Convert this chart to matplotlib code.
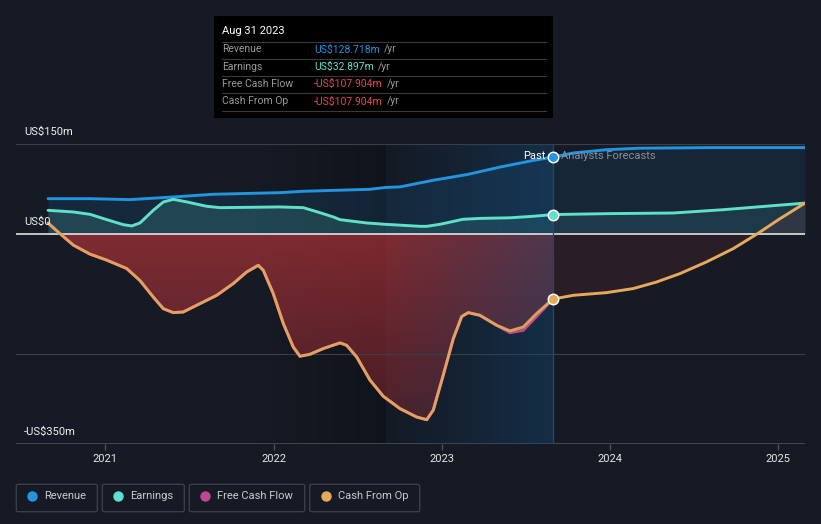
import matplotlib.pyplot as plt
import numpy as np
from matplotlib.colors import LinearSegmentedColormap
from matplotlib.patches import Rectangle, FancyBboxPatch
from matplotlib.lines import Line2D

plt.rcParams["font.family"] = ["Roboto", "DejaVu Sans"]

BG = "#151a24"
BLUE = "#2394df"
TEAL = "#5fe0cb"
PINK = "#c0478c"
ORANGE = "#e8a95b"

# decimal years, values in US$m
rev_x = [2020.660, 2020.909, 2021.147, 2021.404, 2021.640, 2022.038, 2022.175,
         2022.573, 2022.662, 2022.751, 2022.947, 2023.149, 2023.345, 2023.541, 2023.660]
rev_y = [59.4, 59.4, 57.8, 62.2, 66.7, 69.4, 71.7, 75, 78, 79, 90, 99.5, 112, 123, 128.718]
rev_fx = [2023.660, 2023.781, 2023.979, 2024.176, 2024.600, 2025.158]
rev_fy = [128.718, 135.5, 141, 143.5, 144.5, 144.5]

earn_x = [2020.660, 2020.810, 2020.909, 2021.008, 2021.107, 2021.157, 2021.206,
          2021.285, 2021.345, 2021.404, 2021.484, 2021.602, 2021.682, 2022.038,
          2022.176, 2022.276, 2022.355, 2022.395, 2022.553, 2022.662, 2022.870,
          2022.911, 2022.995, 2023.125, 2023.226, 2023.405, 2023.541, 2023.660]
earn_y = [40, 37.2, 33.3, 24.5, 16.1, 13.9, 18.9, 40, 53.9, 58.3, 54, 46.7, 44.4,
          45.6, 44.4, 36, 28.9, 24.4, 18.9, 16.7, 13.3, 13.3, 17, 25, 26.5, 27.5,
          30, 32.897]
earn_fx = [2023.660, 2023.979, 2024.375, 2024.672, 2025.158]
earn_fy = [32.897, 34.4, 35.5, 41, 52]

cfo_x = [2020.660, 2020.731, 2020.810, 2020.909, 2021.008, 2021.127, 2021.206,
         2021.285, 2021.345, 2021.404, 2021.463, 2021.563, 2021.662, 2021.761,
         2021.840, 2021.909, 2021.939, 2021.998, 2022.058, 2022.117, 2022.157,
         2022.216, 2022.295, 2022.395, 2022.434, 2022.494, 2022.573, 2022.652,
         2022.751, 2022.850, 2022.910, 2022.949, 2023.008, 2023.068, 2023.118,
         2023.157, 2023.226, 2023.326, 2023.405, 2023.484, 2023.563, 2023.660]
cfo_y = [18.8, 1, -18, -33, -43, -57, -77, -104.5, -124, -130.5, -129.5, -115.5,
         -101.7, -82, -62.8, -51.7, -60, -98.8, -148.8, -187.8, -203.3, -200,
         -190.5, -181, -185, -204.5, -243, -270, -290.5, -304.5, -309, -293, -235,
         -174, -137, -130.5, -135, -151.7, -161, -154.5, -132, -107.904]
cfo_fx = [2023.660, 2023.781, 2023.979, 2024.137, 2024.276, 2024.415, 2024.573,
          2024.731, 2024.870, 2025.009, 2025.158]
cfo_fy = [-107.904, -101.7, -97.2, -90.5, -79.5, -65.5, -46, -24, 0, 26, 52]

fcf_x = cfo_x
fcf_y = cfo_y[:-4] + [-164, -160, -137, -107.904]

year_ticks = [2021, 2022, 2023, 2024, 2025]
y_grid = [150, -200]
PAST_END = 2023.660
HL_START = 2022.664

W, H = 821, 524
fig = plt.figure(figsize=(W / 100, H / 100), dpi=100, facecolor=BG)
ax = fig.add_axes([16 / W, (H - 444.3) / H, (805 - 16) / W, 300 / H])
ax.set_facecolor(BG)
for s in ax.spines.values():
    s.set_visible(False)

X0, X1 = 2020.4694, 2025.158

# darkening towards the highlighted year, then highlighted last year
dark = LinearSegmentedColormap.from_list("d", [(0, 0, 0, 0), (0, 0, 0, 0.25)])
ax.imshow(np.linspace(0, 1, 256).reshape(1, -1), extent=[2021.9, HL_START, -350, 150],
          cmap=dark, aspect="auto", zorder=0)
hl = LinearSegmentedColormap.from_list("h", [(0.08, 0.25, 0.42, 0.0), (0.08, 0.28, 0.45, 0.45)])
ax.imshow(np.linspace(0, 1, 256).reshape(1, -1), extent=[HL_START, PAST_END, -350, 150],
          cmap=hl, aspect="auto", zorder=4)

# fills
ax.fill_between(rev_x, rev_y, 0, color=BLUE, alpha=0.13, lw=0, zorder=1)
ax.fill_between(rev_fx, rev_fy, 0, color=BLUE, alpha=0.10, lw=0, zorder=1)
ax.fill_between(earn_x, earn_y, 0, color=TEAL, alpha=0.16, lw=0, zorder=1)
ax.fill_between(earn_fx, earn_fy, 0, color=TEAL, alpha=0.10, lw=0, zorder=1)

# past cash flow area: red, fading downwards
red_poly = ax.fill_between(cfo_x, cfo_y, 0, color="none", lw=0, zorder=1)
red = LinearSegmentedColormap.from_list("r", [(0.75, 0.2, 0.22, 0.28), (0.78, 0.22, 0.24, 0.6)])
im = ax.imshow(np.linspace(1, 0, 256).reshape(-1, 1), extent=[X0, PAST_END, -350, 0],
               cmap=red, aspect="auto", zorder=1)
im.set_clip_path(red_poly.get_paths()[0], transform=ax.transData)
ax.fill_between(cfo_fx, cfo_fy, 0, color="#c0363c", alpha=0.12, lw=0, zorder=1)

# grid
for g in y_grid:
    ax.axhline(g, color="#3a3f48", lw=0.8, zorder=2)
ax.axhline(-350, color="#4a4f58", lw=1.2, zorder=2)
ax.axhline(0, color="#f2eeee", lw=1.1, zorder=5)
ax.axvline(PAST_END, color="#2d4660", lw=0.9, zorder=5)

# lines
lw = 2.1
kw = dict(lw=lw, solid_capstyle="round", solid_joinstyle="round")
ax.plot(rev_x, rev_y, color=BLUE, zorder=6, **kw)
ax.plot(rev_fx, rev_fy, color=BLUE, zorder=6, **kw)
ax.plot(earn_x, earn_y, color=TEAL, zorder=6, **kw)
ax.plot(earn_fx, earn_fy, color=TEAL, zorder=6, **kw)
ax.plot(fcf_x, fcf_y, color=PINK, zorder=6, **kw)
ax.plot(cfo_x, cfo_y, color=ORANGE, zorder=7, alpha=0.92, **kw)
ax.plot(cfo_fx, cfo_fy, color=ORANGE, zorder=7, **kw)

for yv, c in [(rev_y[-1], BLUE), (earn_y[-1], TEAL), (cfo_y[-1], ORANGE)]:
    ax.plot([PAST_END], [yv], "o", ms=7.5, mfc=c, mec="white", mew=1.1, zorder=8)

ax.set_xlim(X0, X1)
ax.set_ylim(-350, 150)
ax.set_xticks(year_ticks)
ax.set_xticklabels([str(y) for y in year_ticks])
ax.tick_params(axis="x", colors="#4a4f58", length=4, width=1, labelcolor="#e6e6e6",
               labelsize=8, pad=3)
ax.set_yticks([])


def px(x, y):
    return x / W, 1 - y / H


for txt, yy in [("US$150m", 132), ("US$0", 222), ("-US$350m", 432)]:
    fig.text(*px(24, yy), txt, color="#f0f0f0", fontsize=8, va="center", ha="left", zorder=10)

fig.text(*px(545, 156), "Past", color="#ffffff", fontsize=8, va="center", ha="right")
fig.text(*px(561, 156), "Analysts Forecasts", color="#8b9097", fontsize=8, va="center", ha="left")

# tooltip
fig.patches.append(Rectangle(px(214, 118), (553 - 214) / W, (118 - 16) / H,
                             transform=fig.transFigure, facecolor="#000000", edgecolor="none", zorder=20))
fig.text(*px(222, 31), "Aug 31 2023", color="#ffffff", fontsize=8, va="center", ha="left", zorder=21)
for yy in [41.7, 58.7, 76, 93.3, 111]:
    fig.add_artist(Line2D([222 / W, 546 / W], [1 - yy / H] * 2, color="#3a3a3a", lw=0.8, zorder=21))

rows = [("Revenue", "US$128.718m", BLUE), ("Earnings", "US$32.897m", TEAL),
        ("Free Cash Flow", "-US$107.904m", "#e5484d"), ("Cash From Op", "-US$107.904m", "#e5484d")]
renderer = fig.canvas.get_renderer()
for i, (lab, val, c) in enumerate(rows):
    yy = 49.5 + i * 17.3
    fig.text(*px(222, yy), lab, color="#9a9a9a", fontsize=7.5, va="center", ha="left", zorder=21)
    t = fig.text(*px(314, yy), val, color=c, fontsize=7.5, va="center", ha="left", zorder=21)
    bb = t.get_window_extent(renderer)
    fig.text(bb.x1 / W + 4 / W, 1 - yy / H, "/yr", color="#9a9a9a", fontsize=7.5,
             va="center", ha="left", zorder=21)

# legend
legend = [("Revenue", BLUE, 16.3, 97.3), ("Earnings", TEAL, 102.3, 184.3),
          ("Free Cash Flow", PINK, 189.3, 304.7), ("Cash From Op", ORANGE, 309.7, 419.7)]
for lab, c, x0, x1 in legend:
    fig.patches.append(FancyBboxPatch(px(x0, 511.7), (x1 - x0) / W, 27.4 / H,
                                      boxstyle="round,pad=0,rounding_size=0.003",
                                      transform=fig.transFigure, facecolor=BG,
                                      edgecolor="#3d434d", lw=0.9))
    fig.add_artist(Line2D([(x0 + 16) / W], [1 - 496 / H], marker="o", ms=6.5,
                          color=c, mec=c, lw=0))
    fig.text(*px(x0 + 28, 496), lab, color="#c8ccd1", fontsize=8, va="center", ha="left")

fig.savefig("out.png", dpi=100, facecolor=BG)
